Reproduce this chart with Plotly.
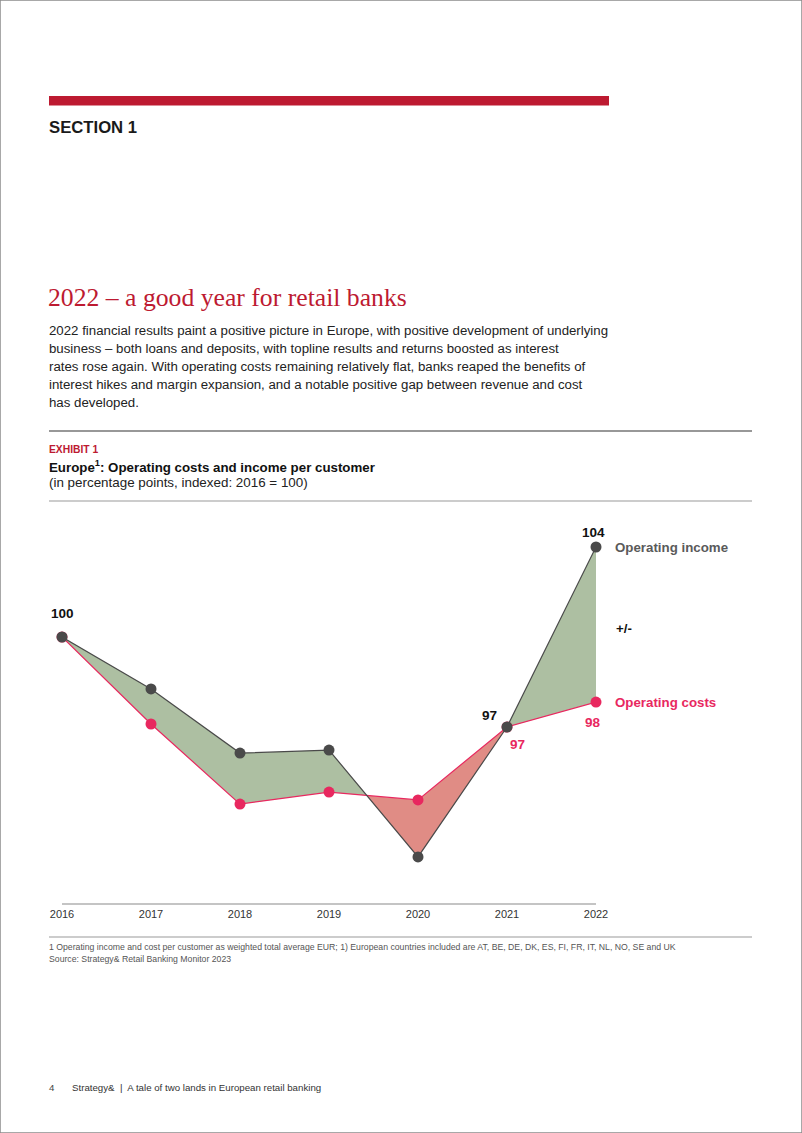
import plotly.graph_objects as go

W, H = 802, 1133

# ---------------- data ----------------
years = [2016, 2017, 2018, 2019, 2020, 2021, 2022]
# plotted positions (index, 2016 = 100)
income = [100.0, 98.27, 96.13, 96.23, 92.67, 97.0, 103.0]
costs = [100.0, 97.1, 94.43, 94.83, 94.57, 97.0, 97.83]
# printed value labels
income_labels = ["100", "", "", "", "", "97", "104"]
costs_labels = ["", "", "", "", "", "97", "98"]
series_names = ["Operating income", "Operating costs"]

# ---------------- styles ----------------
GRAY = "#4a4a4a"
PINK = "#e8285f"
GREEN_FILL = "#adbfa2"
RED_FILL = "#e08c85"
CRIMSON = "#bd1a31"
SANS = "Liberation Sans, Arial, Helvetica, sans-serif"
SERIF = "Liberation Serif, DejaVu Serif, serif"


def px(x):
    return x / W


def py(y):
    return 1 - y / H


# ---------------- fill polygons between the two series ----------------
pos_x, pos_y, neg_x, neg_y = [], [], [], []
for i in range(len(years) - 1):
    x0, x1 = years[i], years[i + 1]
    a0, a1 = income[i], income[i + 1]
    b0, b1 = costs[i], costs[i + 1]
    d0, d1 = a0 - b0, a1 - b1
    if d0 * d1 < 0:
        t = d0 / (d0 - d1)
        xc = x0 + t * (x1 - x0)
        yc = a0 + t * (a1 - a0)
        first = ([x0, xc, x0], [a0, yc, b0])
        second = ([xc, x1, x1], [yc, a1, b1])
        for (xs, ys), d in ((first, d0), (second, d1)):
            tx, ty = (pos_x, pos_y) if d > 0 else (neg_x, neg_y)
            tx += xs + [None]
            ty += ys + [None]
    else:
        d = d0 if d0 != 0 else d1
        tx, ty = (pos_x, pos_y) if d >= 0 else (neg_x, neg_y)
        tx += [x0, x1, x1, x0, None]
        ty += [a0, a1, b1, b0, None]

fig = go.Figure()
fig.add_trace(go.Scatter(x=pos_x, y=pos_y, mode="lines", fill="toself",
                         fillcolor=GREEN_FILL, line=dict(width=0),
                         hoverinfo="skip", showlegend=False, connectgaps=False))
fig.add_trace(go.Scatter(x=neg_x, y=neg_y, mode="lines", fill="toself",
                         fillcolor=RED_FILL, line=dict(width=0),
                         hoverinfo="skip", showlegend=False, connectgaps=False))
fig.add_trace(go.Scatter(x=years, y=costs, mode="lines+markers", name=series_names[1],
                         line=dict(color=PINK, width=1.2),
                         marker=dict(color=PINK, size=11), cliponaxis=False,
                         showlegend=False, hoverinfo="skip"))
fig.add_trace(go.Scatter(x=years, y=income, mode="lines+markers", name=series_names[0],
                         line=dict(color=GRAY, width=1.2),
                         marker=dict(color=GRAY, size=11), cliponaxis=False,
                         showlegend=False, hoverinfo="skip"))

# value labels
LBL = 13.5
for i, yr in enumerate(years):
    if income_labels[i]:
        if yr == 2021:
            fig.add_annotation(x=yr, y=income[i], text=f"<b>{income_labels[i]}</b>",
                               showarrow=False, xanchor="right", yanchor="bottom",
                               xshift=-8, yshift=2, font=dict(family=SANS, size=LBL, color="#111"))
        elif yr == years[-1]:
            fig.add_annotation(x=yr, y=income[i], text=f"<b>{income_labels[i]}</b>",
                               showarrow=False, xanchor="center", yanchor="bottom",
                               xshift=-3, yshift=5, font=dict(family=SANS, size=LBL, color="#111"))
        else:
            fig.add_annotation(x=yr, y=income[i], text=f"<b>{income_labels[i]}</b>",
                               showarrow=False, xanchor="center", yanchor="bottom",
                               xshift=0, yshift=14, font=dict(family=SANS, size=LBL, color="#111"))
    if costs_labels[i]:
        if yr == 2021:
            fig.add_annotation(x=yr, y=costs[i], text=f"<b>{costs_labels[i]}</b>",
                               showarrow=False, xanchor="left", yanchor="top",
                               xshift=1, yshift=-8, font=dict(family=SANS, size=LBL, color=PINK))
        else:
            fig.add_annotation(x=yr, y=costs[i], text=f"<b>{costs_labels[i]}</b>",
                               showarrow=False, xanchor="center", yanchor="top",
                               xshift=-3, yshift=-11, font=dict(family=SANS, size=LBL, color=PINK))

# series labels at right end
fig.add_annotation(x=years[-1], y=income[-1], text=f"<b>{series_names[0]}</b>", showarrow=False,
                   xanchor="left", yanchor="middle", xshift=17,
                   font=dict(family=SANS, size=13.3, color="#5a5a5a"))
fig.add_annotation(x=years[-1], y=costs[-1], text=f"<b>{series_names[1]}</b>", showarrow=False,
                   xanchor="left", yanchor="middle", xshift=17,
                   font=dict(family=SANS, size=13.3, color=PINK))
fig.add_annotation(x=px(614), y=py(628), xref="paper", yref="paper", text="<b>+/-</b>",
                   showarrow=False, xanchor="left", yanchor="middle",
                   font=dict(family=SANS, size=13.3, color="#111"))

# ---------------- page text ----------------
def txt(x, y, text, size, color="#222", family=SANS, xanchor="left"):
    fig.add_annotation(x=px(x), y=py(y), xref="paper", yref="paper", text=text,
                       showarrow=False, xanchor=xanchor, yanchor="middle", align="left",
                       font=dict(family=family, size=size, color=color))

txt(47, 128, "<b>SECTION 1</b>", 16.7, "#1a1a1a")
txt(46, 297, "2022 – a good year for retail banks", 25.7, CRIMSON, SERIF)
para = [
    "2022 financial results paint a positive picture in Europe, with positive development of underlying",
    "business – both loans and deposits, with topline results and returns boosted as interest",
    "rates rose again. With operating costs remaining relatively flat, banks reaped the benefits of",
    "interest hikes and margin expansion, and a notable positive gap between revenue and cost",
    "has developed.",
]
for k, line in enumerate(para):
    txt(47, 331 + k * 17.8, line, 13.25, "#222")

txt(47, 450, "<b>EXHIBIT 1</b>", 10.3, CRIMSON)
txt(47, 466, "<b>Europe<sup>1</sup>: Operating costs and income per customer</b>", 13.3, "#111")
txt(47, 482, "(in percentage points, indexed: 2016 = 100)", 13.4, "#222")

txt(47, 947, "1 Operating income and cost per customer as weighted total average EUR; 1) European countries included are AT, BE, DE, DK, ES, FI, FR, IT, NL, NO, SE and UK", 8.7, "#555")
txt(47, 959, "Source: Strategy& Retail Banking Monitor 2023", 8.7, "#555")

txt(47, 1087, "4", 9.7, "#444")
txt(70, 1087, "Strategy&  |  A tale of two lands in European retail banking", 9.7, "#333")

# ---------------- shapes ----------------
shapes = [
    dict(type="rect", xref="paper", yref="paper", x0=0, x1=1, y0=0, y1=1,
         line=dict(color="#8c8c8c", width=1.5), fillcolor="rgba(0,0,0,0)"),
    dict(type="rect", xref="paper", yref="paper", x0=px(49), x1=px(609), y0=py(105.5), y1=py(96),
         line=dict(width=0), fillcolor=CRIMSON),
    dict(type="line", xref="paper", yref="paper", x0=px(49), x1=px(752), y0=py(431), y1=py(431),
         line=dict(color="#333", width=1.2)),
    dict(type="line", xref="paper", yref="paper", x0=px(49), x1=px(752), y0=py(501), y1=py(501),
         line=dict(color="#999", width=1)),
    dict(type="line", xref="paper", yref="paper", x0=px(49), x1=px(752), y0=py(937), y1=py(937),
         line=dict(color="#999", width=1)),
]

# ---------------- axes / layout ----------------
top_px, bot_px = 510, 903
ppu = 30.0  # pixels per index point
y_hi = 100 + (637 - top_px) / ppu
y_lo = 100 - (bot_px - 637) / ppu

fig.update_layout(
    width=W, height=H,
    autosize=False,
    margin=dict(l=0, r=0, t=0, b=0, pad=0, autoexpand=False),
    paper_bgcolor="white", plot_bgcolor="rgba(0,0,0,0)",
    shapes=shapes,
    showlegend=False,
    hovermode=False,
    xaxis=dict(domain=[px(62), px(596)], range=[years[0], years[-1]],
               tickmode="array", tickvals=years, ticktext=[str(y) for y in years],
               showgrid=False, zeroline=False, showline=True, linecolor="#c4c4c4", linewidth=2,
               ticks="", tickfont=dict(family=SANS, size=11, color="#333"),
               ticklabelstandoff=0, fixedrange=True, automargin=False),
    yaxis=dict(domain=[py(bot_px), py(top_px)], range=[y_lo, y_hi], visible=False,
               showgrid=False, zeroline=False, fixedrange=True, automargin=False),
)

fig.write_html("out.html", config={"responsive": False, "displayModeBar": False})
